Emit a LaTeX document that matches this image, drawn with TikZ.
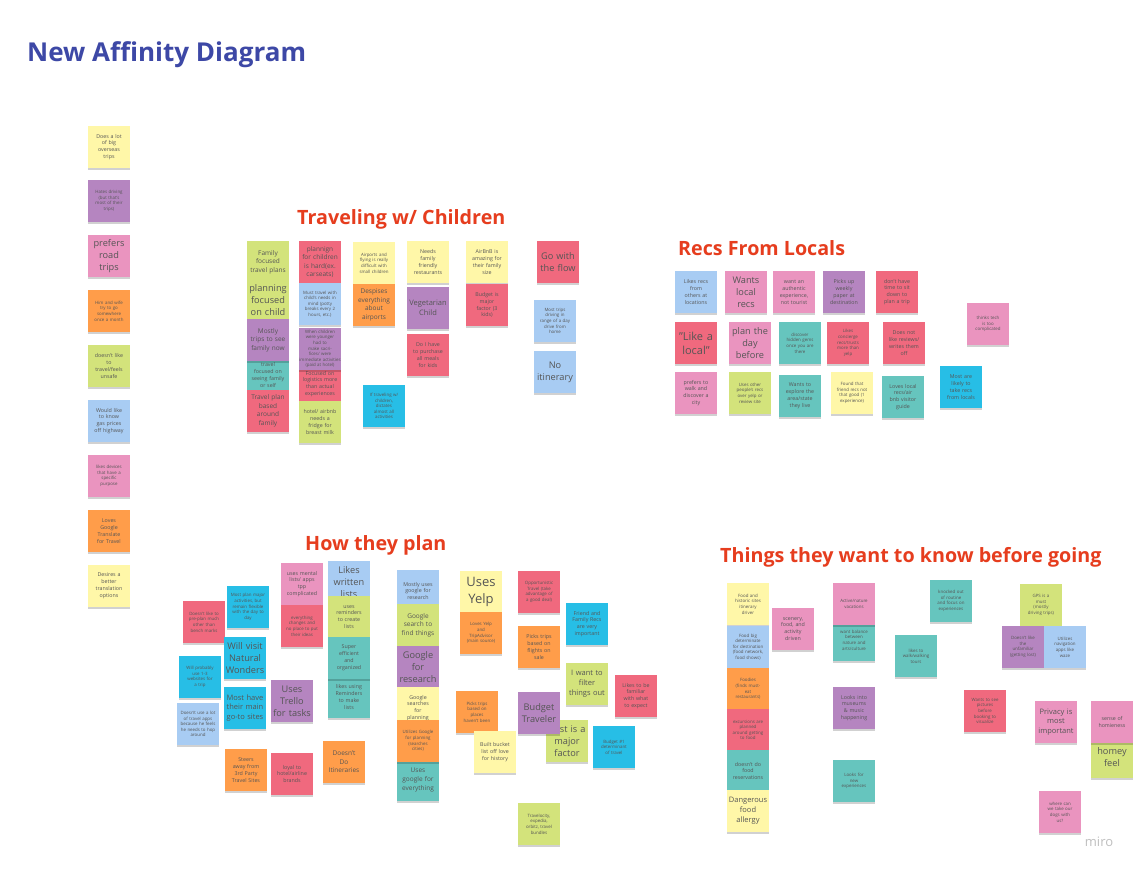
\documentclass[tikz,border=0pt]{standalone}
\usepackage{fontspec}
\setmainfont{Open Sans}
\usetikzlibrary{shadows}

% sticky-note palette
\definecolor{nYel}{HTML}{FFF7A8}
\definecolor{nGrn}{HTML}{D3E37B}
\definecolor{nPur}{HTML}{B585C0}
\definecolor{nPnk}{HTML}{EA94BF}
\definecolor{nOra}{HTML}{FF9D4A}
\definecolor{nRed}{HTML}{F0697E}
\definecolor{nBlu}{HTML}{A8CCF3}
\definecolor{nCyn}{HTML}{27BEE6}
\definecolor{nTel}{HTML}{66C5BE}
\definecolor{noteText}{HTML}{555555}
\definecolor{headRed}{HTML}{E63D1E}
\definecolor{titleBlue}{HTML}{3D48A6}

\tikzset{
  sticky/.style={draw=none, minimum width=42, minimum height=42, text width=42,
    inner sep=0pt, align=center, text=noteText,
    drop shadow={shadow xshift=0pt, shadow yshift=-2pt, opacity=0.18, fill=black}},
  fsT/.style={font=\fontsize{4.4}{5.6}\selectfont},
  fsA/.style={font=\fontsize{5.3}{6.9}\selectfont},
  fsB/.style={font=\fontsize{6.5}{8.6}\selectfont},
  fsC/.style={font=\fontsize{7.5}{9.8}\selectfont},
  fsD/.style={font=\fontsize{9.2}{11.8}\selectfont},
  fsE/.style={font=\fontsize{11}{14}\selectfont},
  fsF/.style={font=\fontsize{13}{16.5}\selectfont},
  heading/.style={font=\fontsize{19.7}{24}\selectfont\bfseries, text=headRed, anchor=west, inner sep=0pt},
}
\newcommand\sticknote[6]{\node[sticky,fill=#4,#5] (#1) at (#2,#3) {#6};}

\begin{document}
\begin{tikzpicture}[x=1pt,y=-1pt]
\fill[white] (0,0) rectangle (1143,874);
\useasboundingbox (0,0) rectangle (1143,874);

% title and group headings
\node[font=\fontsize{26}{31}\selectfont\bfseries, text=titleBlue, anchor=west, inner sep=0pt] (title) at (27,55) {New Affinity Diagram};
\node[heading] (hChildren) at (297,219) {Traveling w/ Children};
\node[heading] (hLocals) at (678,248) {Recs From Locals};
\node[heading] (hPlan) at (305,545) {How they plan};
\node[heading] (hKnow) at (720,557) {Things they want to know before going};

% ungrouped column
\sticknote{l1}{109}{147}{nYel}{fsA}{Does a lot\\of big\\overseas\\trips}
\sticknote{l2}{109}{201}{nPur}{fsT}{Hates driving\\(but that's\\most of their\\trips)}
\sticknote{l3}{109}{256}{nPnk}{fsD}{prefers\\road\\trips}
\sticknote{l4}{109}{311}{nOra}{fsT}{Him and wife\\try to go\\somewhere\\once a month}
\sticknote{l5}{109}{366}{nGrn}{fsA}{doesn't like\\to\\travel/feels\\unsafe}
\sticknote{l6}{109}{421}{nBlu}{fsA}{Would like\\to know\\gas prices\\off highway}
\sticknote{l7}{109}{476}{nPnk}{fsT}{likes devices\\that have a\\specific\\purpose}
\sticknote{l8}{109}{531}{nOra}{fsA}{Loves\\Google\\Translate\\for Travel}
\sticknote{l9}{109}{586}{nYel}{fsA}{Desires a\\better\\translation\\options}

% traveling with children
\sticknote{ca1}{268}{262}{nGrn}{fsB}{Family\\focused\\travel plans}
\sticknote{ca2}{268}{300}{nGrn}{fsD}{planning\\focused\\on child}
\sticknote{ca4}{268}{375}{nTel}{fsA}{travel\\focused on\\seeing family\\or self}
\sticknote{ca3}{268}{340}{nPur}{fsB}{Mostly\\trips to see\\family now}
\sticknote{ca5}{268}{411}{nRed}{fsB}{Travel plan\\based\\around\\family}

\sticknote{cb1}{320}{262}{nRed}{fsB}{plannign\\for children\\is hard(ex.\\carseats)}
\sticknote{cb2}{320}{304}{nBlu}{fsT}{Must travel with\\child's needs in\\mind (potty\\breaks every 2\\hours, etc.)}
\sticknote{cb4}{320}{384}{nRed}{fsA}{Focused on\\logistics more\\than actual\\experiences}
\sticknote{cb3}{320}{349}{nPur}{fsT}{When children\\were younger had to\\make sacrifices/ were\\immediate activities\\(paid at hotel)}
\sticknote{cb5}{320}{422}{nGrn}{fsA}{hotel/ airbnb\\needs a\\fridge for\\breast milk}

\sticknote{cc1}{374}{263}{nYel}{fsT}{Airports and\\flying is really\\difficult with\\small children}
\sticknote{cc2}{374}{305}{nOra}{fsB}{Despises\\everything\\about\\airports}
\sticknote{cc3}{384}{406}{nCyn}{fsT}{If traveling w/\\children,\\dictates\\almost all\\activities}

\sticknote{cd1}{428}{262}{nYel}{fsA}{Needs\\family\\friendly\\restaurants}
\sticknote{cd2}{428}{308}{nPur}{fsC}{Vegetarian\\Child}
\sticknote{cd3}{428}{355}{nRed}{fsA}{Do I have\\to purchase\\all meals\\for kids}

\sticknote{ce1}{487}{262}{nYel}{fsA}{AirBnB is\\amazing for\\their family\\size}
\sticknote{ce2}{487}{305}{nRed}{fsA}{Budget is\\major\\factor (3\\kids)}

\sticknote{cf1}{558}{262}{nRed}{fsD}{Go with\\the flow}
\sticknote{cf2}{555}{321}{nBlu}{fsT}{Most trips\\driving in\\range of a day\\drive from\\home}
\sticknote{cf3}{555}{372}{nBlu}{fsD}{No\\itinerary}

% recommendations from locals
\sticknote{r1}{696}{292}{nBlu}{fsA}{Likes recs\\from\\others at\\locations}
\sticknote{r2}{746}{292}{nPnk}{fsD}{Wants\\local\\recs}
\sticknote{r3}{794}{292}{nPnk}{fsA}{want an\\authentic\\experience,\\not tourist}
\sticknote{r4}{844}{292}{nPur}{fsA}{Picks up\\weekly\\paper at\\destination}
\sticknote{r5}{897}{292}{nRed}{fsA}{don't have\\time to sit\\down to\\plan a trip}
\sticknote{r6}{696}{343}{nRed}{fsE}{"Like a\\local"}
\sticknote{r7}{750}{343}{nPnk}{fsD}{plan the\\day\\before}
\sticknote{r8}{800}{343}{nTel}{fsT}{discover\\hidden gems\\once you are\\there}
\sticknote{r9}{848}{343}{nRed}{fsT}{Likes\\concierge\\recs/trusts\\more than\\yelp}
\sticknote{r10}{904}{343}{nRed}{fsA}{Does not\\like reviews/\\writes them\\off}
\sticknote{r11}{696}{393}{nPnk}{fsA}{prefers to\\walk and\\discover a\\city}
\sticknote{r12}{750}{393}{nGrn}{fsT}{Uses other\\people's recs\\over yelp or\\review site}
\sticknote{r13}{800}{396}{nTel}{fsA}{Wants to\\explore the\\area/state\\they live}
\sticknote{r14}{852}{393}{nYel}{fsT}{Found that\\friend recs not\\that good (1\\experience)}
\sticknote{r15}{903}{397}{nTel}{fsA}{Loves local\\recs/air\\bnb visitor\\guide}
\sticknote{r16}{961}{387}{nCyn}{fsA}{Most are\\likely to\\take recs\\from locals}
\sticknote{r17}{988}{324}{nPnk}{fsT}{thinks tech\\is too\\complicated}

% how they plan
\sticknote{p1}{204}{622}{nRed}{fsT}{Doesn't like to\\pre-plan much\\other than\\bench marks}
\sticknote{p2}{248}{607}{nCyn}{fsT}{Most plan major\\activities, but\\remain flexible\\with the day to\\day}
\sticknote{p3}{245}{658}{nCyn}{fsD}{Will visit\\Natural\\Wonders}
\sticknote{p4}{200}{677}{nCyn}{fsT}{Will probably\\use 1-3\\websites for\\a trip}
\sticknote{p5}{245}{708}{nCyn}{fsC}{Most have\\their main\\go-to sites}
\sticknote{p6}{198}{724}{nBlu}{fsT}{Doesn't use a lot\\of travel apps\\because he feels\\he needs to hop\\around}
\sticknote{p7}{302}{584}{nPnk}{fsA}{uses mental\\lists/ apps\\tpp\\complicated}
\sticknote{p8}{302}{626}{nRed}{fsT}{everything\\changes and\\no place to put\\their ideas}
\sticknote{p9}{292}{701}{nPur}{fsD}{Uses\\Trello\\for tasks}
\sticknote{p10}{246}{770}{nOra}{fsA}{Steers\\away from\\3rd Party\\Travel Sites}
\sticknote{p11}{292}{774}{nRed}{fsA}{loyal to\\hotel/airline\\brands}
\sticknote{p12}{344}{762}{nOra}{fsB}{Doesn't\\Do\\Itineraries}

\sticknote{p13}{349}{582}{nBlu}{fsD}{Likes\\written\\lists}
\sticknote{p14}{349}{617}{nGrn}{fsA}{uses\\reminders\\to create\\lists}
\sticknote{p16}{349}{697}{nTel}{fsA}{likes using\\Reminders\\to make\\lists}
\sticknote{p15}{349}{658}{nTel}{fsA}{Super\\efficient\\and\\organized}

\sticknote{g1}{418}{591}{nBlu}{fsA}{Mostly uses\\google for\\research}
\sticknote{g2}{418}{625}{nGrn}{fsB}{Google\\search to\\find things}
\sticknote{g3}{418}{667}{nPur}{fsD}{Google\\for\\research}
\sticknote{g4}{418}{708}{nYel}{fsA}{Google\\searches\\for\\planning}
\sticknote{g6}{418}{780}{nTel}{fsB}{Uses\\google for\\everything}
\sticknote{g5}{418}{741}{nOra}{fsT}{Utilizes Google\\for planning\\(searches\\cities)}

\sticknote{y1}{481}{592}{nYel}{fsF}{Uses\\Yelp}
\sticknote{y2}{481}{633}{nOra}{fsT}{Loves Yelp\\and\\TripAdvisor\\(main source)}
\sticknote{y3}{539}{592}{nRed}{fsT}{Opportunistic\\Travel (take\\advantage of\\a good deal)}
\sticknote{y4}{539}{647}{nOra}{fsA}{Picks trips\\based on\\flights on\\sale}
\sticknote{y5}{587}{624}{nCyn}{fsA}{Friend and\\Family Recs\\are very\\important}
\sticknote{y6}{587}{684}{nGrn}{fsC}{I want to\\filter\\things out}
\sticknote{y7}{636}{696}{nRed}{fsA}{Likes to be\\familiar\\with what\\to expect}
\sticknote{y8}{477}{712}{nOra}{fsT}{Picks trips\\based on\\places\\haven't been}
\sticknote{y10}{567}{741}{nGrn}{fsD}{Cost is a\\major\\factor}
\sticknote{y9}{539}{713}{nPur}{fsD}{Budget\\Traveler}
\sticknote{y11}{614}{747}{nCyn}{fsT}{Budget \#1\\determinant\\of travel}
\sticknote{y12}{495}{752}{nYel}{fsA}{Built bucket\\list off love\\for history}
\sticknote{y13}{539}{824}{nGrn}{fsT}{Travelocity,\\expedia,\\orbitz, travel\\bundles}

% things to know before going
\sticknote{k1}{748}{604}{nYel}{fsT}{Food and\\historic sites\\itinerary\\driver}
\sticknote{k2}{748}{647}{nBlu}{fsT}{Food big\\determinate\\for destination\\(food network,\\food shows)}
\sticknote{k3}{748}{689}{nOra}{fsT}{Foodies\\(finds must-\\eat\\restaurants)}
\sticknote{k4}{748}{730}{nRed}{fsT}{excursions are\\planned\\around getting\\to food}
\sticknote{k5}{748}{771}{nTel}{fsA}{doesn't do\\food\\reservations}
\sticknote{k6}{748}{811}{nYel}{fsC}{Dangerous\\food\\allergy}
\sticknote{k7}{793}{629}{nPnk}{fsA}{scenery,\\food, and\\activity\\driven}
\sticknote{k9}{854}{640}{nTel}{fsT}{want balance\\between\\nature and\\arts/culture}
\sticknote{k8}{854}{604}{nPnk}{fsT}{Active/nature\\vacations}
\sticknote{k10}{854}{708}{nPur}{fsA}{Looks into\\museums\\\& music\\happening}
\sticknote{k11}{854}{781}{nTel}{fsT}{Looks for\\new\\experiences}
\sticknote{k12}{916}{656}{nTel}{fsT}{likes to\\walk/walking\\tours}
\sticknote{k13}{951}{601}{nTel}{fsT}{knocked out\\of routine\\and focus on\\experiences}
\sticknote{k14}{1041}{605}{nGrn}{fsT}{GPS is a\\must\\(mostly\\driving trips)}
\sticknote{k15}{1023}{647}{nPur}{fsT}{Doesn't like\\the\\unfamiliar\\(getting lost)}
\sticknote{k16}{1065}{647}{nBlu}{fsT}{Utilizes\\navigation\\apps like\\waze}
\sticknote{k17}{985}{711}{nRed}{fsT}{Wants to see\\pictures\\before\\booking to\\visualize}
\sticknote{k18}{1056}{722}{nPnk}{fsC}{Privacy is\\most\\important}
\sticknote{k20}{1112}{757}{nGrn}{fsD}{homey\\feel}
\sticknote{k19}{1112}{722}{nPnk}{fsA}{sense of\\homieness}
\sticknote{k21}{1060}{812}{nPnk}{fsT}{where can\\we take our\\dogs with\\us?}

% board watermark
\node[font=\fontsize{13}{15}\selectfont, text=black!25, inner sep=0pt] (brand) at (1099,842) {miro};
\end{tikzpicture}
\end{document}
